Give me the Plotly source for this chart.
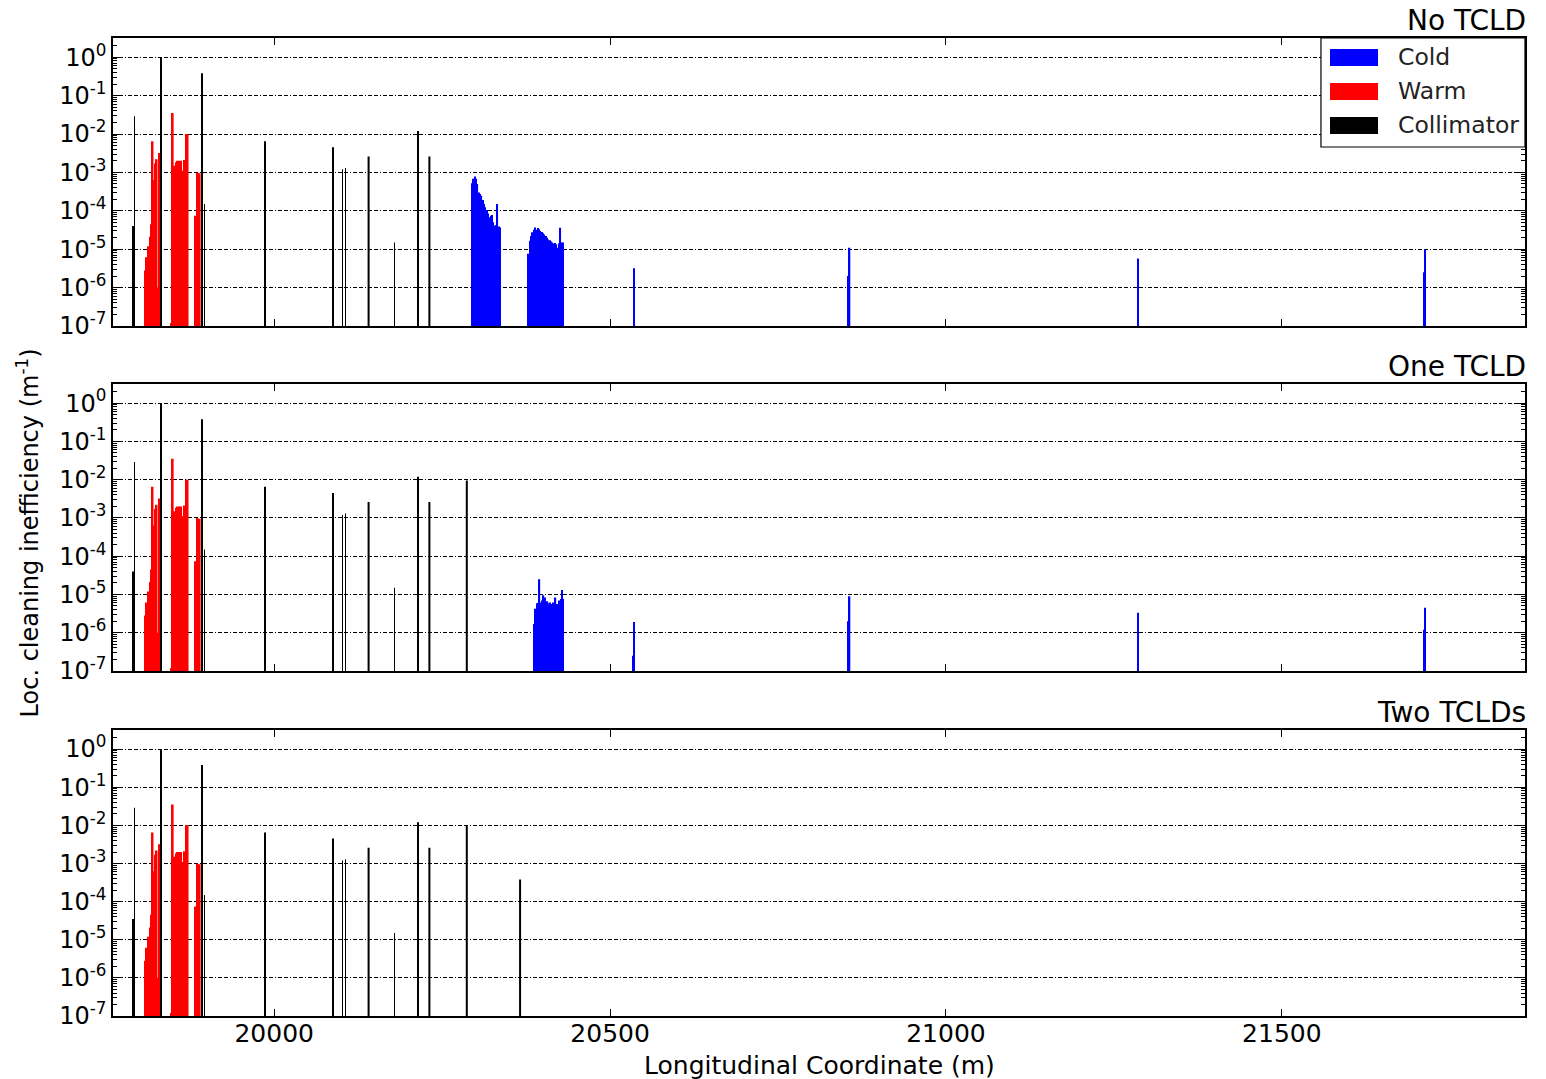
import plotly.graph_objects as go
from plotly.subplots import make_subplots

# ---------------- data ----------------
panel_titles = ["No TCLD", "One TCLD", "Two TCLDs"]

# warm losses (same in all three cases)
warm_s = [19807.7, 19810.2, 19812.7, 19815.2, 19817.3, 19819.0, 19821.0, 19823.0, 19825.0, 19827.0, 19829.0,
          19847.0, 19849.0, 19851.2, 19853.7, 19856.2, 19858.7, 19861.2, 19863.7, 19866.2, 19868.7, 19871.2,
          19882.5, 19885.7, 19889.2]
warm_v = [2.8e-6, 6.2e-6, 1.2e-5, 2.1e-5, 4.5e-5, 6.5e-3, 6.3e-4, 1.7e-3, 2.2e-3, 1.0e-6, 3.2e-3,
          1.2e-7, 3.5e-2, 1.5e-3, 1.85e-3, 2.0e-3, 2.0e-3, 2.0e-3, 1.1e-3, 2.1e-3, 1.0e-2, 1.0e-2,
          7.4e-5, 1.0e-3, 9.5e-4]

# collimators
coll_s = [19789.5, 19792.0, 19831.5, 19892.3, 19896.3, 19986.5, 20087.0, 20101.7, 20106.2,
          20140.5, 20179.0, 20214.0, 20231.0, 20286.7, 20366.0]
coll_len = [2.0, 1.2, 1.2, 1.2, 1.2, 1.2, 1.2, 1.2, 1.2, 3.0, 1.2, 1.2, 3.0, 3.0, 3.0]
coll_no = [4.0e-5, 2.9e-2, 1.0, 0.38, 1.5e-4, 6.5e-3, 4.5e-3, 1.2e-3, 1.3e-3,
           2.6e-3, 1.5e-5, 1.2e-2, 2.6e-3, None, None]
coll_one = [4.0e-5, 2.9e-2, 1.0, 0.38, 1.5e-4, 6.5e-3, 4.5e-3, 1.2e-3, 1.3e-3,
            2.6e-3, 1.5e-5, 1.2e-2, 2.6e-3, 9.5e-3, None]
coll_two = [3.5e-5, 2.9e-2, 1.0, 0.38, 1.5e-4, 6.5e-3, 4.5e-3, 1.2e-3, 1.3e-3,
            2.6e-3, 1.5e-5, 1.2e-2, 2.6e-3, 1.0e-2, 3.8e-4]

# cold losses, no TCLD
cold_no_s = [20294.6, 20296.6, 20298.6, 20300.5, 20302.5, 20304.5, 20306.5, 20308.5, 20310.4, 20312.4,
             20314.4, 20316.4, 20318.3, 20320.3, 20322.3, 20324.3, 20326.3, 20328.2, 20330.2, 20332.2,
             20334.2, 20336.2,
             20378.5, 20380.5, 20382.5, 20384.4, 20386.4, 20388.4, 20390.4, 20392.4, 20394.3, 20396.3,
             20398.3, 20400.3, 20402.3, 20404.2, 20406.2, 20408.2, 20410.2, 20412.2, 20414.1, 20416.1,
             20418.1, 20420.1, 20422.1, 20424.0, 20426.0, 20428.0, 20430.0,
             20535.5, 20854.8, 20856.6, 21285.5, 21712.0, 21713.3]
cold_no_v = [5.2e-4, 6.8e-4, 7.8e-4, 6.8e-4, 5.0e-4, 3.0e-4, 2.75e-4, 2.45e-4, 1.9e-4, 1.5e-4,
             1.23e-4, 1.05e-4, 8.5e-5, 6.8e-5, 7.4e-5, 7.8e-5, 5.0e-5, 4.1e-5, 4.3e-5, 1.5e-4,
             3.9e-5, 3.7e-5,
             7.6e-6, 1.66e-5, 2.2e-5, 2.75e-5, 3.2e-5, 3.7e-5, 3.2e-5, 3.55e-5, 3.3e-5, 3.0e-5,
             2.8e-5, 2.6e-5, 2.4e-5, 2.2e-5, 2.0e-5, 1.8e-5, 1.7e-5, 1.6e-5, 1.5e-5, 1.4e-5,
             1.45e-5, 1.35e-5, 1.1e-5, 1.4e-5, 3.6e-5, 1.5e-5, 1.5e-5,
             3.2e-6, 2.0e-6, 1.1e-5, 5.7e-6, 2.5e-6, 1.0e-5]

# cold losses, one TCLD
cold_one_s = [20387.0, 20389.0, 20391.0, 20392.9, 20394.9, 20396.9, 20398.9, 20400.9, 20402.8, 20404.8,
              20406.8, 20408.8, 20410.8, 20412.7, 20414.7, 20416.7, 20418.7, 20420.7, 20422.6, 20424.6,
              20426.6, 20428.6, 20430.4,
              20534.8, 20536.0, 20854.8, 20856.6, 21285.5, 21712.0, 21713.3]
cold_one_v = [1.7e-6, 4.2e-6, 5.9e-6, 6.0e-6, 2.5e-5, 6.2e-6, 6.9e-6, 9.5e-6, 8.3e-6, 5.9e-6,
              6.6e-6, 5.9e-6, 6.2e-6, 5.6e-6, 6.2e-6, 5.1e-6, 8.3e-6, 5.6e-6, 5.1e-6, 6.9e-6,
              7.6e-6, 1.3e-5, 7.6e-6,
              2.5e-7, 1.9e-6, 2.0e-6, 9.0e-6, 3.3e-6, 1.2e-6, 4.5e-6]

cold_sets = [(cold_no_s, cold_no_v), (cold_one_s, cold_one_v), ([], [])]
coll_sets = [coll_no, coll_one, coll_two]

y_tick_vals = [1e-7, 1e-6, 1e-5, 1e-4, 1e-3, 1e-2, 1e-1, 1e0]
y_tick_text = ["10<sup>-7</sup>", "10<sup>-6</sup>", "10<sup>-5</sup>", "10<sup>-4</sup>",
               "10<sup>-3</sup>", "10<sup>-2</sup>", "10<sup>-1</sup>", "10<sup>0</sup>"]
x_tick_vals = [20000, 20500, 21000, 21500]
x_tick_text = ["20000", "20500", "21000", "21500"]

legend_names = ["Cold", "Warm", "Collimator"]
COLD, WARM, COLL = "#0000ff", "#ff0000", "#000000"
FONT = "DejaVu Sans"

# ---------------- figure ----------------
fig = make_subplots(rows=3, cols=1, shared_xaxes=True, vertical_spacing=0.06)

for r in range(3):
    row = r + 1
    fig.add_trace(go.Bar(x=warm_s, y=warm_v, width=2.5, name="Warm", showlegend=False,
                         marker=dict(color=WARM, line=dict(width=0))), row=row, col=1)
    cs, cv = cold_sets[r]
    if cs:
        fig.add_trace(go.Bar(x=cs, y=cv, width=2.0, name="Cold", showlegend=False,
                             marker=dict(color=COLD, line=dict(width=0))), row=row, col=1)
    fig.add_trace(go.Bar(x=coll_s, y=coll_sets[r], width=coll_len, name="Collimator", showlegend=False,
                         marker=dict(color=COLL, line=dict(width=0))), row=row, col=1)

minor_vals = [m * 10.0 ** e for e in range(-7, 1) for m in range(2, 10)]

fig.update_yaxes(type="log", range=[-7, 0.5], tickmode="array", tickvals=y_tick_vals, ticktext=y_tick_text,
                 ticks="inside", ticklen=7, tickwidth=1.2, tickcolor="black",
                 showline=True, linecolor="black", linewidth=1.5, mirror="ticks",
                 showgrid=True, gridcolor="black", gridwidth=1.2, griddash="4px,2px,4px,2px,1px,2px",
                 minor=dict(tickmode="array", tickvals=minor_vals, ticks="inside", ticklen=4,
                            tickcolor="black", tickwidth=1, showgrid=False),
                 zeroline=False, tickfont=dict(family=FONT, size=24, color="black"))
fig.update_xaxes(range=[19760, 21862], tickmode="array", tickvals=x_tick_vals, ticktext=x_tick_text,
                 ticks="inside", ticklen=7, tickwidth=1.2, tickcolor="black",
                 showline=True, linecolor="black", linewidth=1.5, mirror="ticks",
                 showgrid=False, zeroline=False,
                 tickfont=dict(family=FONT, size=25, color="black"))
fig.update_xaxes(ticklabelstandoff=-6, row=3, col=1)

fig.update_layout(
    width=1546, height=1079,
    margin=dict(l=113, r=21, t=38, b=63),
    plot_bgcolor="white", paper_bgcolor="white",
    barmode="overlay", showlegend=False,
    yaxis=dict(domain=[0.7055, 1.0]),
    yaxis2=dict(domain=[0.3528, 0.6462]),
    yaxis3=dict(domain=[0.0, 0.2924]),
)

annotations = []
for r, title in enumerate(panel_titles):
    sfx = "" if r == 0 else str(r + 1)
    annotations.append(dict(text=title, xref="x%s domain" % sfx, yref="y%s domain" % sfx,
                            x=1.0, y=1.0, xanchor="right", yanchor="bottom", xshift=3, yshift=-1,
                            showarrow=False, font=dict(family=FONT, size=28, color="black")))

annotations.append(dict(text="Loc. cleaning inefficiency (m<sup>-1</sup>)", xref="paper", yref="paper",
                        x=-0.0605, y=0.494, xanchor="center", yanchor="middle", textangle=-90,
                        showarrow=False, font=dict(family=FONT, size=24, color="black")))
annotations.append(dict(text="Longitudinal Coordinate (m)", xref="paper", yref="paper",
                        x=0.5, y=-0.0505, xanchor="center", yanchor="middle",
                        showarrow=False, font=dict(family=FONT, size=25, color="black")))

# legend box (top panel, upper right)
shapes = [dict(type="rect", xref="x domain", yref="y domain", x0=0.8555, x1=1.0, y0=0.6215, y1=1.0,
               fillcolor="white", line=dict(color="black", width=1.2), layer="above")]
sw_y = [(0.9028, 0.9618), (0.7847, 0.8438), (0.6667, 0.7257)]
txt_y = [0.934, 0.816, 0.698]
for name, col, (y0, y1), ty in zip(legend_names, [COLD, WARM, COLL], sw_y, txt_y):
    shapes.append(dict(type="rect", xref="x domain", yref="y domain", x0=0.8619, x1=0.8959, y0=y0, y1=y1,
                       fillcolor=col, line=dict(width=0), layer="above"))
    annotations.append(dict(text=name, xref="x domain", yref="y domain", x=0.9086, y=ty,
                            xanchor="left", yanchor="middle", showarrow=False,
                            font=dict(family=FONT, size=23.5, color="#222222")))

fig.update_layout(annotations=annotations, shapes=shapes)

fig.write_html("out.html")
